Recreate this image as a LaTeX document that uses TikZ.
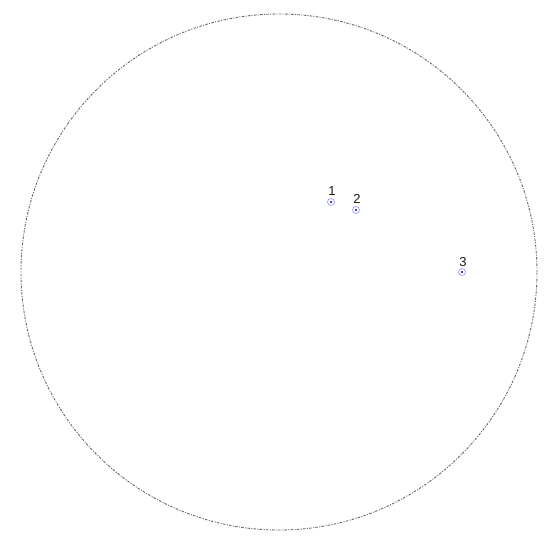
\documentclass[tikz,border=0pt]{standalone}
\usepackage{fontspec}
\setmainfont{Liberation Sans}
\tikzset{
  bound/.style={draw=black!60, line width=0.9pt, dash pattern=on 2.5pt off 1.5pt on 1pt off 1.2pt},
  pt/.style={circle, draw=blue!45, line width=0.6pt, minimum size=7pt, inner sep=0pt},
  ctr/.style={circle, fill=blue!60!black, minimum size=2.2pt, inner sep=0pt},
  lab/.style={font=\fontsize{13}{13}\selectfont, inner sep=0pt, text=black!90}
}
\begin{document}
\begin{tikzpicture}[x=1pt,y=-1pt]
\useasboundingbox (0,0) rectangle (551,539);
\node[circle, bound, minimum size=516pt, inner sep=0pt] (disk) at (279,272) {};
\node[pt] (p1) at (331,202) {};
\node[ctr] at (p1) {};
\node[pt] (p2) at (356,210) {};
\node[ctr] at (p2) {};
\node[pt] (p3) at (462,272) {};
\node[ctr] at (p3) {};
\node[lab] (l1) at (332,191) {1};
\node[lab] (l2) at (357,199) {2};
\node[lab] (l3) at (463,262) {3};
\end{tikzpicture}
\end{document}
